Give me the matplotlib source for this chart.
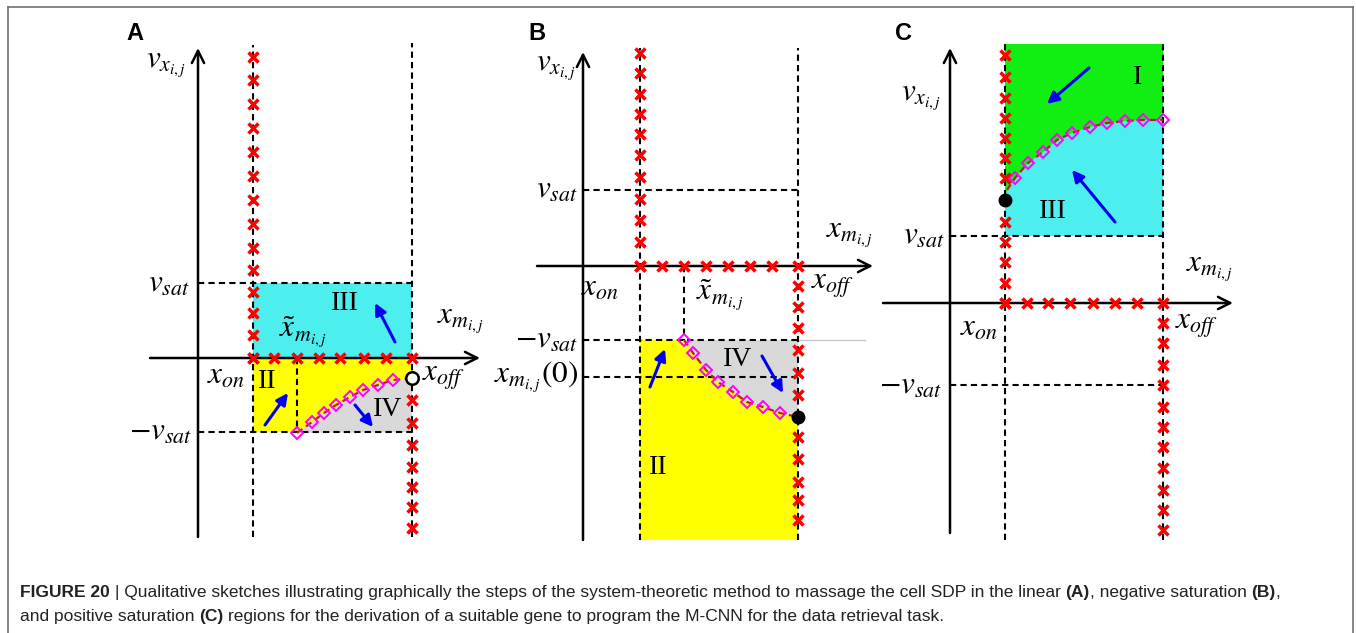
import matplotlib
matplotlib.use("Agg")
import matplotlib.pyplot as plt
from matplotlib import font_manager
from matplotlib.lines import Line2D

W, H = 1356, 633
plt.rcParams["mathtext.fontset"] = "stix"

# ---- panel A: linear region (units = px, origin at the axis crossing) ----
A_X_ON, A_X_OFF, A_VSAT, A_NVSAT, A_XT = 55, 214, 75, -74, 99
A_CURVE_X = [99, 114, 126, 138, 152, 165, 180, 195, 214]
A_CURVE_Y = [-75, -64, -55, -47, -39, -32, -27, -22, -20]
A_XON_CROSS = [301, 278, 254, 230, 206, 182, 158, 134, 110, 88, 66, 45, 23, 0]
A_AXIS_CROSS = [55, 76, 99, 121, 142, 166, 188, 214]
A_XOFF_CROSS = [-42, -65, -87, -109, -129, -149, -170]

# ---- panel B: negative saturation ----
B_X_ON, B_X_OFF, B_VSAT, B_NVSAT, B_XM0, B_XT = 57, 215, 76, -74, -111, 101
B_CURVE_X = [101, 110, 123, 135, 150, 164, 180, 197, 215]
B_CURVE_Y = [-74, -87, -104, -116, -126, -136, -141, -147, -151]
B_XON_CROSS = [213, 193, 172, 152, 132, 111, 89, 67, 46, 24, 0]
B_AXIS_CROSS = [57, 79, 101, 123, 145, 167, 189, 215]
B_XOFF_CROSS = [-20, -41, -62, -84, -107, -129, -171, -193, -216, -234, -254]

# ---- panel C: positive saturation ----
C_X_ON, C_X_OFF, C_VSAT, C_NVSAT, C_TOP, C_DOT = 55, 213, 67, -82, 259, 103
C_CURVE_X = [57, 65, 78, 93, 107, 122, 140, 157, 175, 193, 213]
C_CURVE_Y = [113, 125, 140, 151, 163, 170, 176, 180, 182, 183, 183]
C_XON_CROSS = [248, 226, 205, 185, 165, 145, 125, 81, 61, 41, 20, 0]
C_AXIS_CROSS = [55, 77, 98, 120, 143, 165, 187, 213]
C_XOFF_CROSS = [-20, -40, -62, -82, -104, -124, -144, -165, -187, -207, -227]

CYAN, YELLOW, GRAY, GREEN = "#4deeee", "#ffff00", "#d9d9d9", "#11ee11"
MATH = 22.5
ROMAN = dict(fontsize=20, family="Liberation Serif", ha="center", va="center", zorder=8)

fig = plt.figure(figsize=(W / 100, H / 100), dpi=100)


def panel_axes(box, origin):
    l, t, r, b = box
    ax = fig.add_axes([l / W, 1 - b / H, (r - l) / W, (b - t) / H])
    ax.set_xlim(l - origin[0], r - origin[0])
    ax.set_ylim(origin[1] - b, origin[1] - t)
    ax.axis("off")
    return ax


def dashed(ax, xs, ys):
    ax.plot(xs, ys, color="black", lw=1.5, ls=(0, (3, 2)), zorder=3)


def axis_arrows(ax, x0, x1, y0, y1):
    kw = dict(arrowstyle="->", lw=1.8, color="black", mutation_scale=22, shrinkA=0, shrinkB=0)
    ax.annotate("", xy=(x1, 0), xytext=(x0, 0), arrowprops=kw, zorder=4)
    ax.annotate("", xy=(0, y1), xytext=(0, y0), arrowprops=kw, zorder=4)


def blue_arrow(ax, tail, head):
    ax.annotate("", xy=head, xytext=tail, zorder=7,
                arrowprops=dict(arrowstyle="-|>", lw=2.2, color="#0000ee",
                                mutation_scale=17, shrinkA=0, shrinkB=0))


def crosses(ax, xs, ys):
    ax.plot(xs, ys, ls="none", marker="x", ms=7.5, mew=2.5, color="#ff0000", zorder=6)


def boundary(ax, xs, ys, mx, my):
    ax.plot(xs, ys, color="#c0201a", lw=1.6, ls=(0, (3, 2)), zorder=5)
    ax.plot(mx, my, ls="none", marker="D", ms=6.5, mfc="none", mec="#ff00ff", mew=1.4, zorder=6)


def label(ax, x, y, s, ha="center"):
    ax.text(x, y, s, fontsize=MATH, ha=ha, va="center", zorder=8)


# ================= A =================
ax = panel_axes((120, 20, 500, 550), (198, 358))
ax.fill_between([A_X_ON, A_X_OFF], 0, A_VSAT, color=CYAN, lw=0, zorder=1)
ax.fill_between([A_X_ON, A_X_OFF], A_NVSAT, 0, color=YELLOW, lw=0, zorder=1)
ax.fill(A_CURVE_X + [A_X_OFF], A_CURVE_Y + [A_NVSAT], color=GRAY, lw=0, zorder=2)
dashed(ax, [A_X_ON, A_X_ON], [-179, 313])
dashed(ax, [A_X_OFF, A_X_OFF], [-179, 315])
dashed(ax, [0, A_X_OFF], [A_VSAT, A_VSAT])
dashed(ax, [0, A_X_OFF], [A_NVSAT, A_NVSAT])
dashed(ax, [A_XT, A_XT], [0, A_NVSAT])
axis_arrows(ax, -48, 282, -179, 310)
boundary(ax, A_CURVE_X, A_CURVE_Y, A_CURVE_X[:-1], A_CURVE_Y[:-1])
crosses(ax, [A_X_ON] * len(A_XON_CROSS), A_XON_CROSS)
crosses(ax, A_AXIS_CROSS, [0] * len(A_AXIS_CROSS))
crosses(ax, [A_X_OFF] * len(A_XOFF_CROSS), A_XOFF_CROSS)
ax.plot(A_CURVE_X[-1], A_CURVE_Y[-1], "o", ms=9, mfc="white", mec="black", mew=1.8, zorder=7)
blue_arrow(ax, (197, 16), (177, 55))
blue_arrow(ax, (67, -67), (90, -35))
blue_arrow(ax, (157, -47), (175, -69))
ax.text(147, 55, "III", **ROMAN)
ax.text(69, -24, "II", **ROMAN)
ax.text(190, -52, "IV", **ROMAN)
label(ax, -32, 293, r"$v_{x_{i,j}}$")
label(ax, -8, A_VSAT, r"$v_{sat}$", ha="right")
label(ax, -6, A_NVSAT, r"$-v_{sat}$", ha="right")
label(ax, 28, -18, r"$x_{on}$")
label(ax, 105, 26, r"$\tilde{x}_{m_{i,j}}$")
label(ax, 263, 36, r"$x_{m_{i,j}}$")
label(ax, 224, -20, r"$x_{off}$", ha="left")

# ================= B =================
ax = panel_axes((500, 20, 880, 550), (583, 266))
ax.fill_between([B_X_ON, B_X_OFF], -274, B_NVSAT, color=YELLOW, lw=0, zorder=1)
ax.fill(B_CURVE_X + [B_X_OFF], B_CURVE_Y + [B_NVSAT], color=GRAY, lw=0, zorder=2)
ax.plot([B_X_OFF, 282], [B_NVSAT, B_NVSAT], color="#c8c8c8", lw=1, zorder=2)
dashed(ax, [B_X_ON, B_X_ON], [-274, 218])
dashed(ax, [B_X_OFF, B_X_OFF], [-274, 218])
dashed(ax, [0, B_X_OFF], [B_VSAT, B_VSAT])
dashed(ax, [0, B_X_OFF], [B_NVSAT, B_NVSAT])
dashed(ax, [0, B_X_OFF], [B_XM0, B_XM0])
dashed(ax, [B_XT, B_XT], [0, B_NVSAT])
axis_arrows(ax, -46, 290, -274, 214)
boundary(ax, B_CURVE_X, B_CURVE_Y, B_CURVE_X[:-1], B_CURVE_Y[:-1])
crosses(ax, [B_X_ON] * len(B_XON_CROSS), B_XON_CROSS)
crosses(ax, B_AXIS_CROSS, [0] * len(B_AXIS_CROSS))
crosses(ax, [B_X_OFF] * len(B_XOFF_CROSS), B_XOFF_CROSS)
ax.plot(B_CURVE_X[-1], B_CURVE_Y[-1], "o", ms=9, color="black", zorder=7)
blue_arrow(ax, (67, -121), (82, -83))
blue_arrow(ax, (179, -90), (200, -127))
ax.text(155, -94, "IV", **ROMAN)
ax.text(75, -202, "II", **ROMAN)
label(ax, -27, 198, r"$v_{x_{i,j}}$")
label(ax, -5, B_VSAT, r"$v_{sat}$", ha="right")
label(ax, -5, B_NVSAT, r"$-v_{sat}$", ha="right")
label(ax, -5, B_XM0, r"$x_{m_{i,j}}(0)$", ha="right")
label(ax, 17, -21, r"$x_{on}$")
label(ax, 137, -29, r"$\tilde{x}_{m_{i,j}}$")
label(ax, 228, -19, r"$x_{off}$", ha="left")
label(ax, 267, 31, r"$x_{m_{i,j}}$")

# ================= C =================
ax = panel_axes((880, 20, 1260, 550), (950, 303))
ax.fill_between([C_X_ON, C_X_OFF], C_VSAT, C_TOP, color=GREEN, lw=0, zorder=1)
ax.fill([C_X_ON] + C_CURVE_X + [C_X_OFF, C_X_ON], [C_DOT] + C_CURVE_Y + [C_VSAT, C_VSAT],
        color=CYAN, lw=0, zorder=2)
dashed(ax, [C_X_ON, C_X_ON], [-237, 260])
dashed(ax, [C_X_OFF, C_X_OFF], [-237, 260])
dashed(ax, [0, C_X_OFF], [C_VSAT, C_VSAT])
dashed(ax, [0, C_X_OFF], [C_NVSAT, C_NVSAT])
axis_arrows(ax, -67, 283, -230, 255)
boundary(ax, C_CURVE_X, C_CURVE_Y, C_CURVE_X[1:], C_CURVE_Y[1:])
crosses(ax, [C_X_ON] * len(C_XON_CROSS), C_XON_CROSS)
crosses(ax, C_AXIS_CROSS, [0] * len(C_AXIS_CROSS))
crosses(ax, [C_X_OFF] * len(C_XOFF_CROSS), C_XOFF_CROSS)
ax.plot(C_X_ON, C_DOT, "o", ms=9, color="black", zorder=7)
blue_arrow(ax, (139, 235), (97, 199))
blue_arrow(ax, (165, 81), (122, 133))
ax.text(188, 226, "I", **ROMAN)
ax.text(103, 91, "III", **ROMAN)
label(ax, -29, 205, r"$v_{x_{i,j}}$")
label(ax, -5, C_VSAT, r"$v_{sat}$", ha="right")
label(ax, -8, C_NVSAT, r"$-v_{sat}$", ha="right")
label(ax, 260, 33, r"$x_{m_{i,j}}$")
label(ax, 29, -24, r"$x_{on}$")
label(ax, 225, -22, r"$x_{off}$", ha="left")

# panel letters
for letter, px in [("A", 135), ("B", 537), ("C", 903)]:
    fig.text(px / W, 1 - 34 / H, letter, fontsize=17, weight="bold",
             family="Liberation Sans", ha="center", va="center")

# frame
frame = dict(color="#666666", lw=1.1, transform=fig.transFigure)
fig.add_artist(Line2D([8 / W, 1353 / W], [1 - 6.5 / H, 1 - 6.5 / H], **frame))
fig.add_artist(Line2D([8 / W, 8 / W], [0, 1 - 6.5 / H], **frame))
fig.add_artist(Line2D([1353 / W, 1353 / W], [0, 1 - 6.5 / H], **frame))

# caption
names = {f.name for f in font_manager.fontManager.ttflist}
cap_family = "Liberation Sans Narrow" if "Liberation Sans Narrow" in names else "Liberation Sans"
renderer = fig.canvas.get_renderer()

LINE1 = [("FIGURE 20", True, True),
         ("| Qualitative sketches illustrating graphically the steps of the system-theoretic "
          "method to massage the cell SDP in the linear", False, True),
         ("(A)", True, False), (", negative saturation", False, True),
         ("(B)", True, False), (",", False, False)]
LINE2 = [("and positive saturation", False, True), ("(C)", True, True),
         ("regions for the derivation of a suitable gene to program the M-CNN for the data "
          "retrieval task.", False, False)]


def text_width(s, size, bold):
    t = fig.text(0, 0, s, fontsize=size, family=cap_family, weight="bold" if bold else "normal")
    w = t.get_window_extent(renderer).width
    t.remove()
    return w


def line_width(segs, size):
    sp = text_width("x x", size, False) - text_width("xx", size, False)
    return sum(text_width(s, size, b) + (sp if gap else 0) for s, b, gap in segs)


size = 12
size = size * 1258 / line_width(LINE1, size)


def draw_line(segs, y):
    sp = text_width("x x", size, False) - text_width("xx", size, False)
    x = 20
    for s, b, gap in segs:
        fig.text(x / W, 1 - y / H, s, fontsize=size, family=cap_family,
                 weight="bold" if b else "normal", va="baseline", color="#222222")
        x += text_width(s, size, b) + (sp if gap else 0)


draw_line(LINE1, 597)
draw_line(LINE2, 621)

fig.savefig("out.png", dpi=100)
